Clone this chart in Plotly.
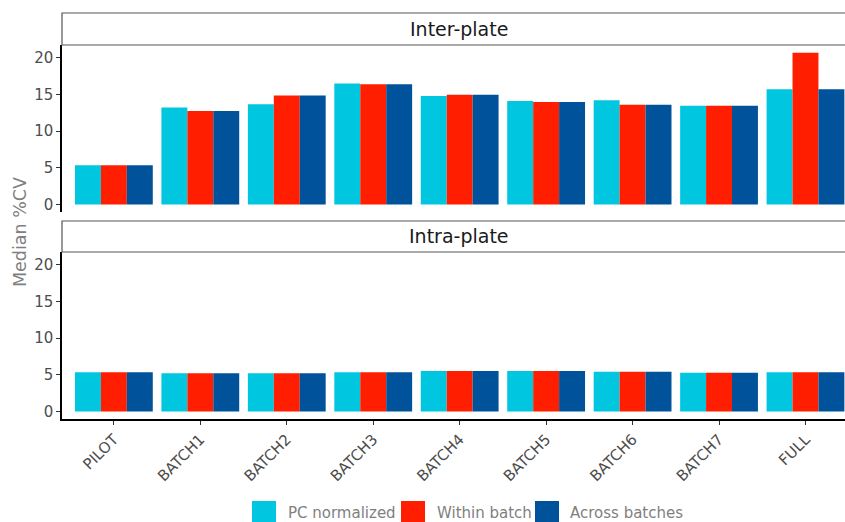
import plotly.graph_objects as go
from plotly.subplots import make_subplots

categories = ["PILOT", "BATCH1", "BATCH2", "BATCH3", "BATCH4", "BATCH5", "BATCH6", "BATCH7", "FULL"]
series_names = ["PC normalized", "Within batch", "Across batches"]
colors = ["#00C6DF", "#FF1F00", "#00529B"]

inter_pc = [5.35, 13.2, 13.65, 16.5, 14.8, 14.1, 14.2, 13.45, 15.7]
inter_within = [5.35, 12.75, 14.85, 16.4, 14.95, 13.95, 13.6, 13.45, 20.7]
inter_across = [5.35, 12.75, 14.85, 16.4, 14.95, 13.95, 13.6, 13.45, 15.7]

intra_pc = [5.35, 5.22, 5.22, 5.35, 5.52, 5.52, 5.42, 5.27, 5.35]
intra_within = [5.35, 5.22, 5.22, 5.35, 5.52, 5.52, 5.42, 5.27, 5.35]
intra_across = [5.35, 5.22, 5.22, 5.35, 5.52, 5.52, 5.42, 5.27, 5.35]

panel_titles = ["Inter-plate", "Intra-plate"]
y_ticks = [0, 5, 10, 15, 20]

# the page body margin is removed (see post_script), so the figure fills the window
OFF = 0
W, H = 845, 522
# desired screen positions of the plotting area
S_L, S_R, S_T, S_B = 62, 845, 45, 419
L = S_L - OFF
T = S_T - OFF
R = W - (S_R - OFF)
B = H - (S_B - OFF)
plot_h = H - T - B
plot_w = W - L - R
gap_px = 40  # strip + spacing between panels

fig = make_subplots(rows=2, cols=1, shared_xaxes=True,
                    vertical_spacing=gap_px / plot_h)

panels = [(inter_pc, inter_within, inter_across), (intra_pc, intra_within, intra_across)]
for r, vals in enumerate(panels, start=1):
    for name, v, c in zip(series_names, vals, colors):
        fig.add_trace(go.Bar(x=categories, y=v, name=name, marker_color=c,
                             marker_line_width=0, showlegend=False,
                             offsetgroup=name), row=r, col=1)

font = "DejaVu Sans"
fig.update_layout(
    width=W, height=H,
    margin=dict(l=L, r=R, t=T, b=B),
    plot_bgcolor="white", paper_bgcolor="white",
    barmode="group", bargap=0.1, bargroupgap=0,
    font=dict(family=font, size=15, color="#4D4D4D"),
)

yrange = [-1.035, 21.74]
for r in (1, 2):
    fig.update_yaxes(range=yrange, tickvals=y_ticks, ticks="outside", ticklen=4,
                     tickcolor="#333333", tickwidth=1, showline=True, linecolor="black",
                     linewidth=1.5, showgrid=False, zeroline=False,
                     tickfont=dict(size=15, color="#4D4D4D"), row=r, col=1)
    fig.update_xaxes(range=[-0.6, 8.457], showgrid=False, zeroline=False, row=r, col=1)

fig.update_xaxes(showline=False, ticks="", showticklabels=False, row=1, col=1)
fig.update_xaxes(showline=True, linecolor="black", linewidth=1.5, ticks="outside",
                 ticklen=4, tickcolor="#333333", tickangle=-45,
                 tickfont=dict(size=15, color="#4D4D4D"), row=2, col=1)


def py(sy):
    """screen y pixel -> paper y"""
    return (S_B - sy) / plot_h


def pxx(sx):
    """screen x pixel -> paper x"""
    return (sx - S_L) / plot_w


# facet strips
strips = [(13, 45), (221, 252)]
for title, (top, bot) in zip(panel_titles, strips):
    fig.add_shape(type="rect", xref="paper", yref="paper",
                  x0=0, x1=pxx(857), y0=py(bot), y1=py(top),
                  line=dict(color="#555555", width=1.2), fillcolor="white", layer="above")
    fig.add_annotation(text=title, xref="paper", yref="paper", x=pxx(459.5),
                       y=py((top + bot) / 2), showarrow=False, xanchor="center",
                       yanchor="middle", font=dict(size=19, color="#1A1A1A", family=font))

# y axis title
fig.add_annotation(text="Median %CV", xref="paper", yref="paper", x=pxx(20), y=py(232),
                   textangle=-90, showarrow=False, xanchor="center", yanchor="middle",
                   font=dict(size=17.5, color="#7F7F7F", family=font))

# manual legend
leg_items = [(252, 286), (401, 435), (535, 568)]
for (sx, tx), name, c in zip(leg_items, series_names, colors):
    fig.add_shape(type="rect", xref="paper", yref="paper",
                  x0=pxx(sx), x1=pxx(sx + 24), y0=py(522), y1=py(501),
                  line=dict(width=0), fillcolor=c)
    fig.add_annotation(text=name, xref="paper", yref="paper", x=pxx(tx), y=py(513),
                       showarrow=False, xanchor="left", yanchor="middle",
                       font=dict(size=15, color="#7F7F7F", family=font))

fig.write_html("out.html",
               config={"displayModeBar": False},
               post_script="document.body.style.margin='0';"
                           "document.documentElement.style.overflow='hidden';")
